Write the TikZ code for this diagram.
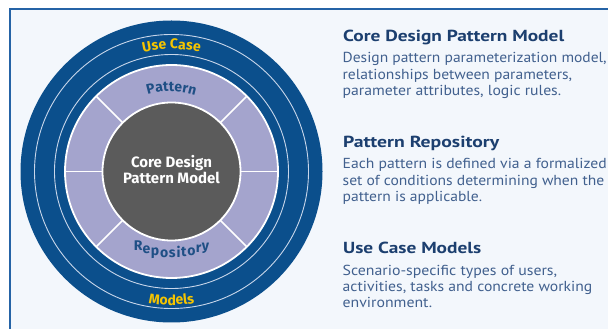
\documentclass[tikz,border=0pt]{standalone}
\usepackage{fontspec}
\usepackage{graphicx}
\setmainfont{PT Sans}
\newfontfamily\lblfont{Fira Sans}
\usetikzlibrary{decorations.text}
\definecolor{bg}{HTML}{F3F7FC}
\definecolor{frame}{HTML}{2563A6}
\definecolor{ringblue}{HTML}{0B4F8C}
\definecolor{lav}{HTML}{A4A4CD}
\definecolor{coregray}{HTML}{5B5B5B}
\definecolor{gold}{HTML}{F5C400}
\definecolor{navytxt}{HTML}{1F4F85}
\definecolor{headc}{HTML}{1C3F6F}
\definecolor{bodyc}{HTML}{41608E}
\definecolor{thinw}{HTML}{C8D6EA}
\newcommand\fitw[2]{\resizebox{#1pt}{\height}{#2}}
\tikzset{
  head/.style={anchor=base west, inner sep=0, text=headc, font=\fontsize{16}{16}\selectfont\bfseries},
  body/.style={anchor=base west, inner sep=0, text=bodyc, font=\fontsize{14.5}{14.5}\selectfont},
  thinring/.style={draw=thinw, line width=0.9},
  divider/.style={draw=white, line width=1.5},
}
\begin{document}
\begin{tikzpicture}[x=1pt,y=1pt]
\useasboundingbox (0,0) rectangle (608,329);
\fill[white] (0,0) rectangle (608,329);
\fill[bg] (10,0) rectangle (608,320);
\draw[frame, line width=2] (10,0) -- (10,320) -- (608,320);
\coordinate (c) at (171.5,157.5);
\fill[ringblue] (c) circle (151);
\draw[thinring] (c) circle (137);
\draw[thinring] (c) circle (117);
\filldraw[fill=lav, draw=white, line width=1.8] (c) circle (106.5);
\foreach \a in {0,45,135,180,225,315}
  \draw[divider] (c) ++(\a:69) -- ++(\a:37);
\filldraw[fill=coregray, draw=white, line width=1.8] (c) circle (69);
\node[inner sep=0, text=white, align=center, font=\lblfont\fontsize{15}{16}\selectfont\bfseries] (core) at ([yshift=1.5]c) {Core Design\\Pattern Model};
% curved labels
\path[decorate, decoration={text along path, text align=center, text color=gold,
   text={|\lblfont\fontsize{14}{14}\selectfont\bfseries|Use Case}}]
   (c) ++(125:122.5) arc[start angle=125, end angle=55, radius=122.5];
\path[decorate, decoration={text along path, text align=center, text color=gold,
   text={|\lblfont\fontsize{14}{14}\selectfont\bfseries|Models}}]
   (c) ++(235:133.5) arc[start angle=235, end angle=305, radius=133.5];
\path[decorate, decoration={text along path, text align=center, text color=navytxt,
   text={|\lblfont\fontsize{14}{14}\selectfont\bfseries|Pattern}}]
   (c) ++(130:80) arc[start angle=130, end angle=50, radius=80];
\path[decorate, decoration={text effects along path, text={Repository}, text align=center,
   text effects/.cd,
     characters={text=navytxt, font=\lblfont\fontsize{14}{14}\selectfont\bfseries, inner sep=0pt, text height=10pt, text depth=3pt},
     character widths={inner xsep=0.4pt, font=\lblfont\fontsize{14}{14}\selectfont\bfseries}}]
   (c) ++(225:82.5) arc[start angle=225, end angle=315, radius=82.5];
% right texts
\node[head] (h1) at (343,287) {\fitw{221}{Core Design Pattern Model}};
\node[body] (b11) at (342.5,266) {\fitw{264}{Design pattern parameterization model,}};
\node[body] (b12) at (342.5,249.5) {\fitw{229.5}{relationships between parameters,}};
\node[body] (b13) at (342.5,233) {\fitw{218.5}{parameter attributes, logic rules.}};
\node[head] (h2) at (343,181) {\fitw{156}{Pattern Repository}};
\node[body] (b21) at (342.5,160) {\fitw{264}{Each pattern is defined via a formalized}};
\node[body] (b22) at (342.5,143.5) {\fitw{261.5}{set of conditions determining when the}};
\node[body] (b23) at (342.5,127) {\fitw{139.5}{pattern is applicable.}};
\node[head] (h3) at (343,75) {\fitw{138}{Use Case Models}};
\node[body] (b31) at (342.5,53) {\fitw{214.5}{Scenario-specific types of users,}};
\node[body] (b32) at (342.5,37.5) {\fitw{249.5}{activities, tasks and concrete working}};
\node[body] (b33) at (342.5,21) {\fitw{89.5}{environment.}};
\end{tikzpicture}
\end{document}
